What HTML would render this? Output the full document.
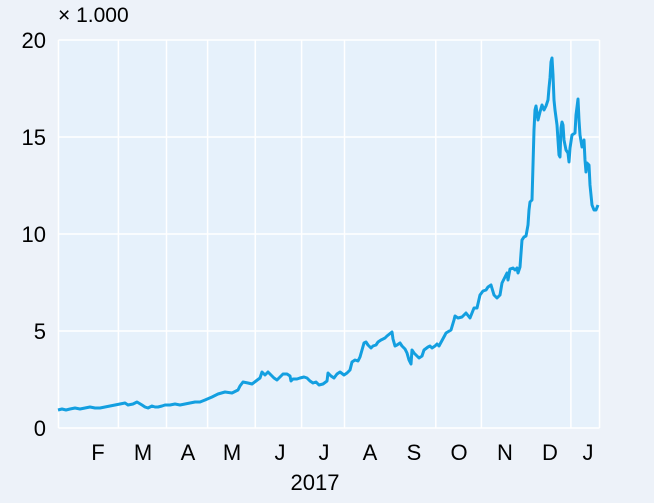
<!DOCTYPE html>
<html><head><meta charset="utf-8"><style>
html,body{margin:0;padding:0;background:#edf2f9;}
svg{display:block;font-family:"Liberation Sans",Arial,sans-serif;}
</style></head><body>
<svg width="654" height="503" viewBox="0 0 654 503">
<rect width="654" height="503" fill="#edf2f9"/>
<rect x="58.5" y="40" width="541" height="388" fill="#e6f1fb"/>
<g stroke="#ffffff" stroke-width="1.5">
<line x1="58.5" y1="40" x2="599.5" y2="40"/>
<line x1="58.5" y1="137" x2="599.5" y2="137"/>
<line x1="58.5" y1="234" x2="599.5" y2="234"/>
<line x1="58.5" y1="331" x2="599.5" y2="331"/>
<line x1="58.5" y1="428" x2="599.5" y2="428"/>
<line x1="58.5" y1="40" x2="58.5" y2="428"/>
<line x1="118.4" y1="40" x2="118.4" y2="428"/>
<line x1="166.5" y1="40" x2="166.5" y2="428"/>
<line x1="207.6" y1="40" x2="207.6" y2="428"/>
<line x1="255.3" y1="40" x2="255.3" y2="428"/>
<line x1="301.6" y1="40" x2="301.6" y2="428"/>
<line x1="344.5" y1="40" x2="344.5" y2="428"/>
<line x1="435.8" y1="40" x2="435.8" y2="428"/>
<line x1="481.4" y1="40" x2="481.4" y2="428"/>
<line x1="570.9" y1="40" x2="570.9" y2="428"/>
<line x1="599.5" y1="40" x2="599.5" y2="428"/>
</g>
<polyline fill="none" stroke="#139fe0" stroke-width="3" stroke-linejoin="round" points="
58,410 62,409 66,410 70,409 75,408 80,409 85,408 90,407 95,408 100,408 105,407 110,406 115,405 120,404 125,403 128,405 133,404 137,402 142,405 145,407 148,408 152,406 155,407 158,407 162,406 165,405 170,405 175,404 180,405 185,404 190,403 195,402 200,402 205,400 212,397 218,394 225,392 232,393 238,390
240,386 243,382 248,383 252,384 256,381 260,378 262,372 265,375 268,372 271,375 274,378 277,380 281,376 283,374 287,374 290,376 291,381 293,379 297,379 300,378 304,377 307,378 310,381 313,383 316,382 319,385 323,384 327,381 328,373 331,376 334,378 337,374 340,372 344,375 347,373 350,370 352,362 355,360 358,361 360,357 362,350 364,343 366,342 368,345 371,348 373,346 376,345 378,342 381,340 385,338 387,336 392,332 393,339 395,346 397,345 400,343 402,346 405,349 407,353 409,360 411,364 412,350 414,353 417,356 419,358 422,356 424,350 428,347 430,346 432,348 435,346 437,344 439,346 445,335 446,333 451,330 454,320 455,316 458,318 462,317 466,313 470,318 474,308 477,308
480,295 483,291 486,290 488,287 491,285 494,295 497,298 500,295 502,283 505,277 507,273 508,280 510,269 513,268 515,270 517,268 518,273 520,267 522,240 524,237 526,236 528,225 529,210 530,202 532,200 533,165 534,130 535,110 536,106 538,120 540,112 542,105 544,110 546,106 548,100 549,88 550,78 551,62 552,58 553,75 554,100 555,110 557,125 558,140 559,155 560,157 561,128 562,122 563,125 564,140 566,150 568,153 569,162 570,148 572,135 575,133 576,115 578,99 579,120 580,135 582,147 584,140 585,160 586,172 587,163 589,165 590,185 592,205 594,210 596,210 598,205"/>
<g font-size="22" fill="#000" text-anchor="end">
<text x="46" y="48">20</text>
<text x="46" y="145">15</text>
<text x="46" y="242">10</text>
<text x="46" y="339">5</text>
<text x="46" y="436">0</text>
</g>
<text x="58" y="22" font-size="21" fill="#000">× 1.000</text>
<g font-size="22" fill="#000" text-anchor="middle">
<text x="98" y="460">F</text>
<text x="143" y="460">M</text>
<text x="188" y="460">A</text>
<text x="232" y="460">M</text>
<text x="280" y="460">J</text>
<text x="324" y="460">J</text>
<text x="370" y="460">A</text>
<text x="414" y="460">S</text>
<text x="459" y="460">O</text>
<text x="505" y="460">N</text>
<text x="550" y="460">D</text>
<text x="588" y="460">J</text>
<text x="315" y="490">2017</text>
</g>
</svg>
</body></html>
